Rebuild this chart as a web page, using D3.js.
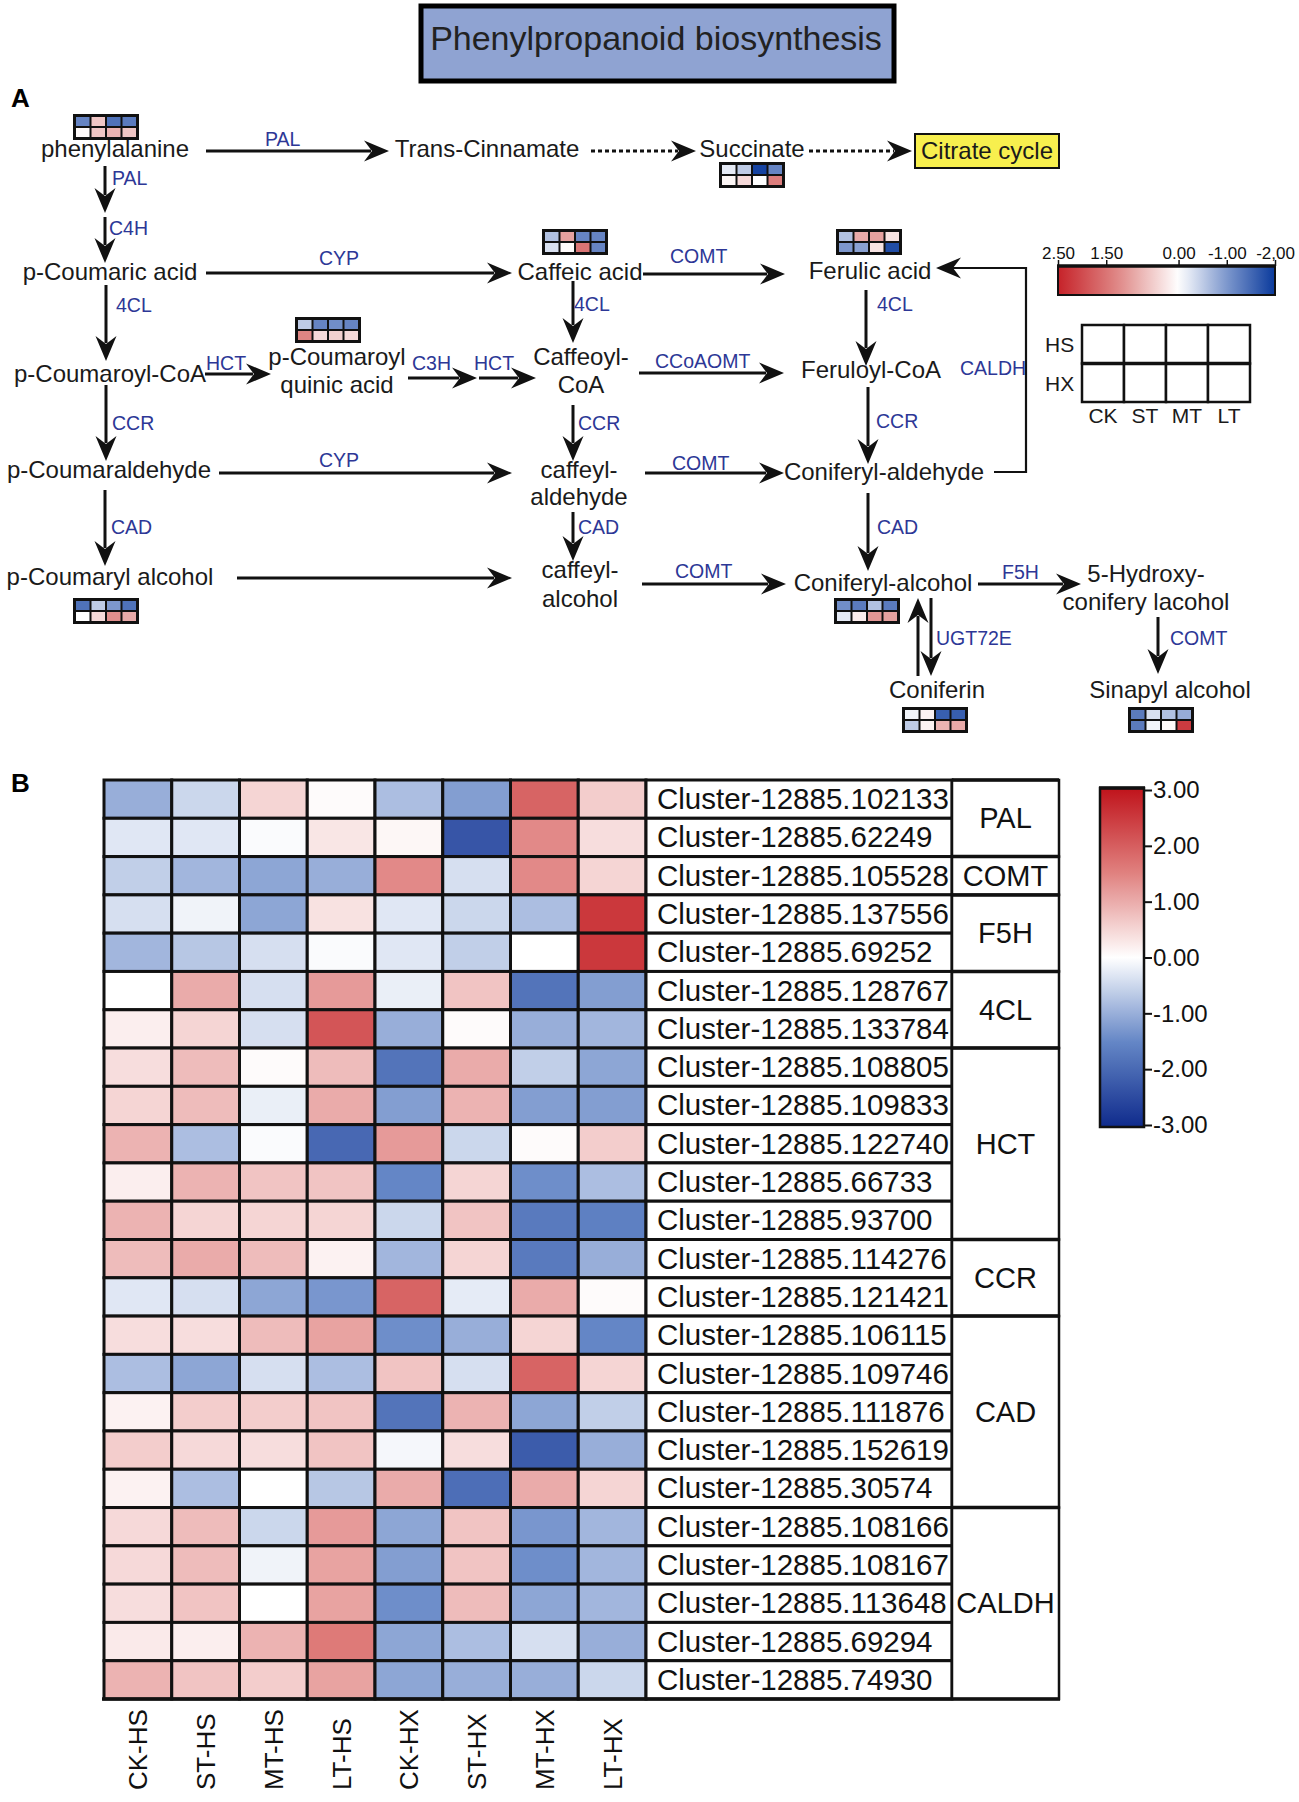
<!DOCTYPE html>
<html>
<head>
<meta charset="utf-8">
<script src="https://cdn.jsdelivr.net/npm/d3@7"></script>
<style>
  body { margin: 0; background: #fff; }
  text { font-family: "Liberation Sans", Arial, sans-serif; }
</style>
</head>
<body>
<svg id="chart"></svg>
<script>
// ---- data: heatmap (panel B) ----
var samples = ['CK-HS', 'ST-HS', 'MT-HS', 'LT-HS', 'CK-HX', 'ST-HX', 'MT-HX', 'LT-HX'];
var clusters = ['Cluster-12885.102133', 'Cluster-12885.62249', 'Cluster-12885.105528', 'Cluster-12885.137556',
  'Cluster-12885.69252', 'Cluster-12885.128767', 'Cluster-12885.133784', 'Cluster-12885.108805',
  'Cluster-12885.109833', 'Cluster-12885.122740', 'Cluster-12885.66733', 'Cluster-12885.93700',
  'Cluster-12885.114276', 'Cluster-12885.121421', 'Cluster-12885.106115', 'Cluster-12885.109746',
  'Cluster-12885.111876', 'Cluster-12885.152619', 'Cluster-12885.30574', 'Cluster-12885.108166',
  'Cluster-12885.108167', 'Cluster-12885.113648', 'Cluster-12885.69294', 'Cluster-12885.74930'];
var groupNames = ['PAL', 'COMT', 'F5H', '4CL', 'HCT', 'CCR', 'CAD', 'CALDH'];
var groupSizes = [2, 1, 2, 2, 5, 2, 5, 5];
var values = [
  [-1.0, -0.5, 0.5, 0.05, -0.8, -1.2, 1.9, 0.6],
  [-0.3, -0.3, -0.05, 0.3, 0.1, -2.3, 1.4, 0.4],
  [-0.6, -0.9, -1.1, -1.0, 1.4, -0.4, 1.4, 0.5],
  [-0.4, -0.15, -1.1, 0.35, -0.3, -0.5, -0.8, 2.5],
  [-0.9, -0.7, -0.4, -0.05, -0.3, -0.6, 0.0, 2.5],
  [0.0, 1.0, -0.4, 1.2, -0.2, 0.7, -1.8, -1.2],
  [0.2, 0.5, -0.4, 2.1, -1.0, 0.05, -1.0, -0.9],
  [0.4, 0.8, 0.05, 0.8, -1.8, 1.0, -0.6, -1.1],
  [0.5, 0.8, -0.2, 1.0, -1.2, 0.9, -1.2, -1.2],
  [0.9, -0.8, -0.05, -2.0, 1.2, -0.5, 0.05, 0.6],
  [0.2, 0.9, 0.7, 0.7, -1.5, 0.5, -1.4, -0.8],
  [0.9, 0.5, 0.5, 0.5, -0.5, 0.7, -1.7, -1.6],
  [0.8, 1.0, 0.8, 0.15, -0.9, 0.5, -1.7, -1.0],
  [-0.3, -0.4, -1.1, -1.3, 1.9, -0.25, 1.0, 0.05],
  [0.4, 0.4, 0.8, 1.1, -1.4, -1.0, 0.5, -1.5],
  [-0.8, -1.1, -0.4, -0.8, 0.7, -0.4, 1.9, 0.5],
  [0.15, 0.6, 0.6, 0.7, -1.8, 0.9, -1.1, -0.6],
  [0.6, 0.45, 0.4, 0.7, -0.1, 0.4, -2.2, -1.0],
  [0.15, -0.8, 0.0, -0.7, 1.0, -1.9, 1.0, 0.5],
  [0.45, 0.8, -0.5, 1.2, -1.1, 0.7, -1.3, -0.9],
  [0.45, 0.8, -0.15, 1.1, -1.2, 0.7, -1.4, -0.9],
  [0.4, 0.7, 0.0, 1.1, -1.4, 0.8, -1.1, -0.9],
  [0.25, 0.2, 0.9, 1.6, -1.1, -0.8, -0.4, -1.0],
  [0.9, 0.7, 0.6, 1.1, -1.1, -1.0, -1.0, -0.5]
];
var ticksB = [3, 2, 1, 0, -1, -2, -3];

// ---- data: small pathway boxes (panel A), columns CK ST MT LT ----
var boxNames = ['phenylalanine', 'Succinate', 'Caffeic acid', 'Ferulic acid', 'p-Coumaroyl quinic acid',
  'p-Coumaryl alcohol', 'Coniferyl-alcohol', 'Coniferin', 'Sinapyl alcohol'];
var boxHS = [
  [-1.2, 0.6, -1.4, -1.3],
  [-0.2, -0.5, -1.9, -1.2],
  [-0.6, 1.0, -1.2, -1.2],
  [-0.6, 0.9, 1.0, 0.3],
  [-0.5, -1.2, -1.1, -1.2],
  [-1.4, -0.5, -1.0, -1.4],
  [-1.1, -1.3, -0.6, -1.3],
  [-0.1, 0.15, -1.6, -1.6],
  [-1.3, -0.3, -0.6, -0.8]
];
var boxHX = [
  [0.05, 0.6, 0.8, 0.6],
  [0.1, 0.4, 0.0, 1.4],
  [-0.3, 0.05, 1.5, -1.2],
  [-1.0, -0.9, 0.3, -1.8],
  [1.3, 0.4, 0.5, 0.4],
  [0.0, 0.4, 1.2, 0.9],
  [-0.2, 0.2, 1.1, 1.0],
  [-0.5, 0.15, 0.8, 0.9],
  [-1.3, -0.1, 0.05, 2.2]
];
var boxCols = ['CK', 'ST', 'MT', 'LT'];
var boxRows = ['HS', 'HX'];
var ticksA = [2.5, 1.5, 0, -1, -2];
var ticksALabels = ['2.50', '1.50', '0.00', '-1.00', '-2,00'];

// ---- layout ----
var W = 1299, H = 1802;
var enzColor = '#2d3796';

var svg = d3.select('#chart').attr('width', W).attr('height', H);
svg.append('rect').attr('width', W).attr('height', H).attr('fill', '#fff');
var defs = svg.append('defs');

var colorA = d3.scaleLinear().domain([-2, -1, 0, 1.25, 2.5])
  .range(['#0a3a9c', '#7d97cd', '#ffffff', '#df8987', '#c62229']);
var colorB = d3.scaleLinear().domain([-3, -1.5, 0, 1.5, 3])
  .range(['#0f2b8c', '#6486c6', '#ffffff', '#e0817f', '#c0131b']);

// title
svg.append('rect').attr('x', 421).attr('y', 6).attr('width', 473).attr('height', 75)
  .attr('fill', '#8fa3d2').attr('stroke', '#000').attr('stroke-width', 5);
svg.append('text').attr('x', 656).attr('y', 50).attr('text-anchor', 'middle')
  .attr('font-size', 34).attr('fill', '#222').text('Phenylpropanoid biosynthesis');

svg.append('text').attr('x', 11).attr('y', 107).attr('font-size', 26).attr('font-weight', 'bold').text('A');
svg.append('text').attr('x', 11).attr('y', 792).attr('font-size', 26).attr('font-weight', 'bold').text('B');

var gA = svg.append('g');

function metabolite(lines, x, ys) {
  lines.forEach(function(t, i) {
    gA.append('text').attr('x', x).attr('y', ys[i]).attr('text-anchor', 'middle')
      .attr('font-size', 24).attr('fill', '#1a1a1a').text(t);
  });
}

function enzyme(t, x, y) {
  gA.append('text').attr('x', x).attr('y', y).attr('font-size', 19.5)
    .attr('fill', enzColor).text(t);
}

function head(x2, y2, ux, uy) {
  var L = 25, Wd = 10.5, n = 8;
  var px = -uy, py = ux;
  var pts = [
    [x2, y2],
    [x2 - L * ux + Wd * px, y2 - L * uy + Wd * py],
    [x2 - (L - n) * ux, y2 - (L - n) * uy],
    [x2 - L * ux - Wd * px, y2 - L * uy - Wd * py]
  ];
  gA.append('polygon').attr('points', pts.map(function(p) { return p.join(','); }).join(' '))
    .attr('fill', '#111');
}

function arrow(x1, y1, x2, y2, dashed) {
  var dx = x2 - x1, dy = y2 - y1, len = Math.sqrt(dx * dx + dy * dy);
  var ux = dx / len, uy = dy / len;
  gA.append('line').attr('x1', x1).attr('y1', y1)
    .attr('x2', x2 - 18 * ux).attr('y2', y2 - 18 * uy)
    .attr('stroke', '#111').attr('stroke-width', 3)
    .attr('stroke-dasharray', dashed ? '4,3' : null);
  head(x2, y2, ux, uy);
}

function heatBox(name, x, y) {
  var i = boxNames.indexOf(name);
  var bw = 66, bh = 26, pad = 3, gap = 2;
  var cw = (bw - 2 * pad - 3 * gap) / 4, ch = (bh - 2 * pad - gap) / 2;
  gA.append('rect').attr('x', x).attr('y', y).attr('width', bw).attr('height', bh).attr('fill', '#111');
  [boxHS[i], boxHX[i]].forEach(function(row, r) {
    row.forEach(function(v, c) {
      gA.append('rect')
        .attr('x', x + pad + c * (cw + gap)).attr('y', y + pad + r * (ch + gap))
        .attr('width', cw).attr('height', ch).attr('fill', colorA(v));
    });
  });
}

// metabolites
metabolite(['phenylalanine'], 115, [157]);
metabolite(['Trans-Cinnamate'], 487, [157]);
metabolite(['Succinate'], 752, [157]);
metabolite(['p-Coumaric acid'], 110, [280]);
metabolite(['Caffeic acid'], 580, [280]);
metabolite(['Ferulic acid'], 870, [279]);
metabolite(['p-Coumaroyl-CoA'], 110, [382]);
metabolite(['p-Coumaroyl', 'quinic acid'], 337, [365, 393]);
metabolite(['Caffeoyl-', 'CoA'], 581, [365, 393]);
metabolite(['Feruloyl-CoA'], 871, [378]);
metabolite(['p-Coumaraldehyde'], 109, [478]);
metabolite(['caffeyl-', 'aldehyde'], 579, [478, 505]);
metabolite(['Coniferyl-aldehyde'], 884, [480]);
metabolite(['p-Coumaryl alcohol'], 110, [585]);
metabolite(['caffeyl-', 'alcohol'], 580, [578, 607]);
metabolite(['Coniferyl-alcohol'], 883, [591]);
metabolite(['5-Hydroxy-', 'conifery lacohol'], 1146, [582, 610]);
metabolite(['Coniferin'], 937, [698]);
metabolite(['Sinapyl alcohol'], 1170, [698]);

// citrate cycle box
gA.append('rect').attr('x', 915).attr('y', 134).attr('width', 144).attr('height', 34)
  .attr('fill', '#f7ef4e').attr('stroke', '#111').attr('stroke-width', 2);
metabolite(['Citrate cycle'], 987, [159]);

// arrows
arrow(206, 151, 389, 151);
arrow(591, 151, 696, 151, true);
arrow(809, 151, 912, 151, true);
arrow(105, 166, 105, 213);
arrow(105, 217, 105, 263);
arrow(206, 273, 512, 273);
arrow(643, 274, 785, 274);
arrow(106, 285, 106, 361);
arrow(205, 374, 271, 374);
arrow(408, 378, 477, 378);
arrow(479, 378, 536, 378);
arrow(573, 281, 573, 343);
arrow(639, 373, 784, 373);
arrow(866, 290, 866, 366);
arrow(868, 387, 868, 464);
arrow(645, 473, 784, 473);
arrow(106, 385, 106, 461);
arrow(219, 473, 512, 473);
arrow(573, 405, 573, 461);
arrow(573, 512, 573, 561);
arrow(105, 490, 105, 566);
arrow(237, 578, 512, 578);
arrow(642, 584, 786, 584);
arrow(868, 493, 868, 571);
arrow(978, 584, 1081, 584);
arrow(1158, 617, 1158, 674);
arrow(918, 676, 918, 598);
arrow(931, 598, 931, 676);

// CALDH feedback line
gA.append('polyline').attr('points', '994,472 1026,472 1026,268 952,268')
  .attr('fill', 'none').attr('stroke', '#111').attr('stroke-width', 2.2);
head(936, 268, -1, 0);

// enzyme labels
enzyme('PAL', 265, 146);
enzyme('PAL', 112, 185);
enzyme('C4H', 109, 235);
enzyme('CYP', 319, 265);
enzyme('COMT', 670, 263);
enzyme('4CL', 116, 312);
enzyme('4CL', 574, 311);
enzyme('4CL', 877, 311);
enzyme('HCT', 206, 370);
enzyme('C3H', 412, 370);
enzyme('HCT', 474, 370);
enzyme('CCoAOMT', 655, 368);
enzyme('CALDH', 960, 375);
enzyme('CCR', 112, 430);
enzyme('CCR', 578, 430);
enzyme('CCR', 876, 428);
enzyme('CYP', 319, 467);
enzyme('COMT', 672, 470);
enzyme('CAD', 111, 534);
enzyme('CAD', 578, 534);
enzyme('CAD', 877, 534);
enzyme('COMT', 675, 578);
enzyme('F5H', 1002, 579);
enzyme('UGT72E', 936, 645);
enzyme('COMT', 1170, 645);

// heat boxes
heatBox('phenylalanine', 73, 114);
heatBox('Succinate', 719, 162);
heatBox('Caffeic acid', 542, 229);
heatBox('Ferulic acid', 836, 229);
heatBox('p-Coumaroyl quinic acid', 295, 317);
heatBox('p-Coumaryl alcohol', 73, 598);
heatBox('Coniferyl-alcohol', 834, 598);
heatBox('Coniferin', 902, 707);
heatBox('Sinapyl alcohol', 1128, 707);

// colour bar A
var xA = d3.scaleLinear().domain([2.5, -2]).range([1058, 1275]);
var gradA = defs.append('linearGradient').attr('id', 'gradA');
d3.range(0, 1.0001, 0.05).forEach(function(t) {
  var v = 2.5 - 4.5 * t;
  gradA.append('stop').attr('offset', t).attr('stop-color', colorA(v));
});
gA.append('rect').attr('x', 1058).attr('y', 266).attr('width', 217).attr('height', 29)
  .attr('fill', 'url(#gradA)').attr('stroke', '#111').attr('stroke-width', 2);
gA.append('line').attr('x1', 1057).attr('x2', 1276).attr('y1', 266).attr('y2', 266)
  .attr('stroke', '#111').attr('stroke-width', 3.5);
var axA = gA.append('g').attr('transform', 'translate(0,266)')
  .call(d3.axisTop(xA).tickValues(ticksA).tickSize(6)
    .tickFormat(function(d, i) { return ticksALabels[i]; }));
axA.select('.domain').remove();
axA.selectAll('line').attr('stroke', '#111').attr('stroke-width', 1.5);
axA.selectAll('text').attr('font-size', 17).attr('fill', '#111').attr('dy', 0).attr('y', -7);

// HS / HX legend grid
var lx = d3.scaleBand().domain(boxCols).range([1082, 1250]);
var ly = d3.scaleBand().domain(boxRows).range([325, 402]);
boxRows.forEach(function(r) {
  boxCols.forEach(function(c) {
    gA.append('rect').attr('x', lx(c)).attr('y', ly(r)).attr('width', lx.bandwidth()).attr('height', ly.bandwidth())
      .attr('fill', '#fff').attr('stroke', '#111').attr('stroke-width', 2.5);
  });
  gA.append('text').attr('x', 1045).attr('y', ly(r) + ly.bandwidth() / 2 + 8)
    .attr('font-size', 21).attr('fill', '#1a1a1a').text(r);
});
gA.append('line').attr('x1', 1082).attr('x2', 1250).attr('y1', ly('HX')).attr('y2', ly('HX'))
  .attr('stroke', '#111').attr('stroke-width', 3.5);
boxCols.forEach(function(c) {
  gA.append('text').attr('x', lx(c) + lx.bandwidth() / 2).attr('y', 423).attr('text-anchor', 'middle')
    .attr('font-size', 21).attr('fill', '#1a1a1a').text(c);
});

// ---- panel B heatmap ----
var gB = svg.append('g');
var x = d3.scaleBand().domain(samples).range([104, 646]);
var y = d3.scaleBand().domain(clusters).range([780, 1699]);
var labX = 646, labW = 306, grpX = 952, grpW = 107;

var cells = [];
values.forEach(function(row, i) {
  row.forEach(function(v, j) { cells.push({c: clusters[i], s: samples[j], v: v}); });
});

gB.selectAll('rect.cell').data(cells).enter().append('rect')
  .attr('class', 'cell')
  .attr('x', function(d) { return x(d.s); })
  .attr('y', function(d) { return y(d.c); })
  .attr('width', x.bandwidth()).attr('height', y.bandwidth())
  .attr('fill', function(d) { return colorB(d.v); })
  .attr('stroke', '#111').attr('stroke-width', 3);

gB.selectAll('rect.lab').data(clusters).enter().append('rect')
  .attr('class', 'lab')
  .attr('x', labX).attr('y', function(d) { return y(d); })
  .attr('width', labW).attr('height', y.bandwidth())
  .attr('fill', '#fff').attr('stroke', '#111').attr('stroke-width', 3);

gB.selectAll('text.lab').data(clusters).enter().append('text')
  .attr('class', 'lab')
  .attr('x', labX + 11).attr('y', function(d) { return y(d) + y.bandwidth() / 2 + 10; })
  .attr('font-size', 29.5).attr('fill', '#111').text(function(d) { return d; });

var start = 0;
groupNames.forEach(function(g, i) {
  var y0 = y(clusters[start]);
  var h = groupSizes[i] * y.step();
  gB.append('rect').attr('x', grpX).attr('y', y0).attr('width', grpW).attr('height', h)
    .attr('fill', '#fff').attr('stroke', '#111').attr('stroke-width', 2.5);
  gB.append('line').attr('x1', grpX).attr('x2', grpX + grpW).attr('y1', y0).attr('y2', y0)
    .attr('stroke', '#111').attr('stroke-width', 3.5);
  gB.append('text').attr('x', grpX + grpW / 2).attr('y', y0 + h / 2 + 10).attr('text-anchor', 'middle')
    .attr('font-size', 29).attr('fill', '#111').text(g);
  start += groupSizes[i];
});
gB.append('line').attr('x1', 102).attr('x2', grpX + grpW + 1).attr('y1', 1699).attr('y2', 1699)
  .attr('stroke', '#111').attr('stroke-width', 3.5);

gB.selectAll('text.col').data(samples).enter().append('text')
  .attr('class', 'col')
  .attr('transform', function(d) {
    return 'translate(' + (x(d) + x.bandwidth() / 2 + 9.5) + ',1790) rotate(-90)';
  })
  .attr('font-size', 26).attr('fill', '#111').text(function(d) { return d; });

// colour bar B
var yB = d3.scaleLinear().domain([3, -3]).range([790, 1125]);
var gradB = defs.append('linearGradient').attr('id', 'gradB')
  .attr('x1', 0).attr('x2', 0).attr('y1', 0).attr('y2', 1);
d3.range(0, 1.0001, 0.05).forEach(function(t) {
  gradB.append('stop').attr('offset', t).attr('stop-color', colorB(3 - 6 * t));
});
gB.append('rect').attr('x', 1100).attr('y', 788).attr('width', 44).attr('height', 339)
  .attr('fill', 'url(#gradB)').attr('stroke', '#111').attr('stroke-width', 2.5);
gB.append('line').attr('x1', 1099).attr('x2', 1145).attr('y1', 788).attr('y2', 788)
  .attr('stroke', '#111').attr('stroke-width', 3.5);
var axB = gB.append('g').attr('transform', 'translate(1144,0)')
  .call(d3.axisRight(yB).tickValues(ticksB).tickSize(8)
    .tickFormat(function(d) { return d.toFixed(2); }));
axB.select('.domain').remove();
axB.selectAll('line').attr('stroke', '#111').attr('stroke-width', 2);
axB.selectAll('text').attr('font-size', 24).attr('fill', '#111').attr('x', 9);
</script>
</body>
</html>
